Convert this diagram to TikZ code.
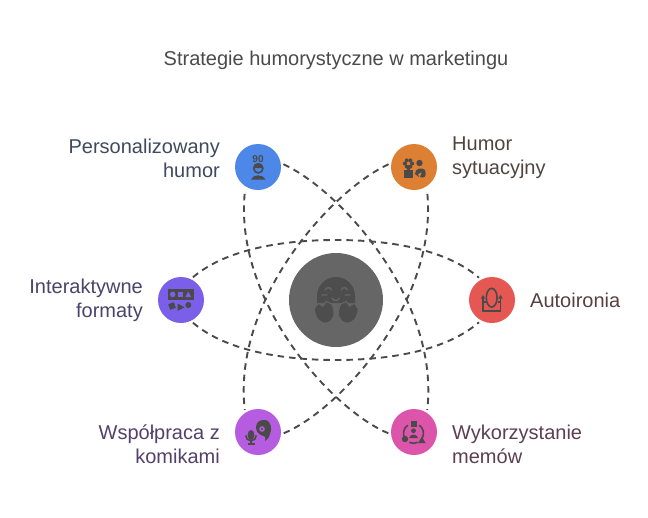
\documentclass[tikz,border=0pt]{standalone}
\usepackage{fontspec}
\setmainfont{Liberation Sans}
\usepackage{xcolor}
\usetikzlibrary{positioning, shapes.geometric}
\definecolor{hubgray}{HTML}{666666}
\definecolor{icongray}{HTML}{4A4A4A}
\definecolor{lineblue}{HTML}{4D87E8}
\definecolor{lineorange}{HTML}{DD8033}
\definecolor{linepurple}{HTML}{7B5FE8}
\definecolor{linered}{HTML}{E55753}
\definecolor{lineviolet}{HTML}{B65CE0}
\definecolor{linepink}{HTML}{DC55AB}
\definecolor{textblue}{HTML}{3F4A5E}
\definecolor{textorange}{HTML}{4F4540}
\definecolor{textpurple}{HTML}{4A4468}
\definecolor{textred}{HTML}{5A3F3F}
\definecolor{textviolet}{HTML}{54406A}
\definecolor{textpink}{HTML}{5C3F50}
\begin{document}
\begin{tikzpicture}[
    x=1pt, y=-1pt,
    spot/.style={circle, minimum size=46pt, inner sep=0pt, outer sep=0pt},
    label/.style={font=\fontsize{20}{24}\selectfont, inner sep=0pt},
    orbit/.style={draw=icongray, line width=1.9pt, dash pattern=on 6.5pt off 5pt, shorten >=3pt, shorten <=3pt},
    wire/.style={draw=icongray, line width=1.6pt, fill=none}
]
    \useasboundingbox (0,0) rectangle (648,517);

    \node[circle, minimum size=94pt, inner sep=0pt, fill=hubgray] (hub) at (336,300) {};
    \node[spot, fill=lineblue] (personal) at (258,167) {};
    \node[spot, fill=lineorange] (sytuacja) at (414,167) {};
    \node[spot, fill=linepurple] (format) at (181,300) {};
    \node[spot, fill=linered] (ironia) at (492,300) {};
    \node[spot, fill=lineviolet] (komik) at (258,432) {};
    \node[spot, fill=linepink] (mem) at (414,432) {};

    % Orbits
    \draw[orbit] (format.65) .. controls (225,250) and (280,240) .. (336,240)
        .. controls (392,240) and (447,250) .. (ironia.118);
    \draw[orbit] (format.-65) .. controls (225,350) and (280,360) .. (336,360)
        .. controls (392,360) and (447,350) .. (ironia.-118);
    \draw[orbit] (personal.10) .. controls (340,190) and (440,300) .. (mem.56);
    \draw[orbit] (mem.-174) .. controls (332,410) and (232,300) .. (personal.-123);
    \draw[orbit] (sytuacja.170) .. controls (332,190) and (232,300) .. (komik.124);
    \draw[orbit] (komik.-6) .. controls (340,410) and (440,300) .. (sytuacja.-57);

    % Labels
    \node[font=\fontsize{20}{24}\selectfont, text=icongray, inner sep=0pt] (title) at (336,60) {Strategie humorystyczne w marketingu};
    \node[label, left=15pt of personal, yshift=9pt, align=right, text=textblue] (personaltxt) {Personalizowany\\humor};
    \node[label, right=15pt of sytuacja, yshift=9pt, align=left, text=textorange] (sytuacjatxt) {Humor\\sytuacyjny};
    \node[label, left=15pt of format, align=right, text=textpurple] (formattxt) {Interaktywne\\formaty};
    \node[label, right=15pt of ironia, align=left, text=textred] (ironiatxt) {Autoironia};
    \node[label, left=15pt of komik, yshift=-12pt, align=right, text=textviolet] (komiktxt) {Współpraca z\\komikami};
    \node[label, right=15pt of mem, yshift=-12pt, align=left, text=textpink] (memtxt) {Wykorzystanie\\memów};

    % Hub icon
    \fill[icongray!90!hubgray] (317,296) arc[start angle=180, end angle=360, radius=19] -- (355,303) -- (317,303) -- cycle;
    \draw[hubgray, line width=1.3pt, line cap=round] (325,290) arc[start angle=200, end angle=340, radius=3.6]
        (341,290) arc[start angle=200, end angle=340, radius=3.6]
        (322,295) -- (327,295) (345,295) -- (350,295)
        (332,298) arc[start angle=160, end angle=20, radius=4];
    \foreach \hx/\tilt in {325/14, 347.5/-14} {
        \fill[icongray!90!hubgray, draw=hubgray, line width=1pt, rotate around={\tilt:(\hx,314)}]
            (\hx-9,306) -- (\hx-4,302) -- (\hx,306) -- (\hx+4,302) -- (\hx+9,306)
            .. controls (\hx+11,316) and (\hx+7,323) .. (\hx,323)
            .. controls (\hx-7,323) and (\hx-11,316) .. (\hx-9,306) -- cycle;
    }

    % Blue icon
    \node[font=\bfseries\fontsize{10}{10}\selectfont, text=icongray, inner sep=0pt] (ninety) at (258,159.5) {90};
    \draw[wire] (258.3,168.3) circle (4.6);
    \fill[icongray] (253.7,168) arc[start angle=180, end angle=360, radius=4.6] -- cycle;
    \fill[icongray] (251,179.5) .. controls (253,174) and (263,174) .. (265.5,179.5) -- cycle;

    % Orange icon
    \foreach \fa in {0,60,...,300} {\fill[icongray] (408.5,163.5) ++(\fa:3.6) circle (2);}
    \fill[lineorange] (408.5,163.5) circle (1.3);
    \fill[icongray] (407.3,165) rectangle (409.7,170);
    \fill[icongray] (404,169.5) rectangle (413,178);
    \fill[icongray] (419.5,163) circle (3.2);
    \fill[icongray] (415,174) .. controls (415,168) and (422,167) .. (425,170)
        .. controls (426,174) and (426,177) .. (423,177.5) -- (420,177) -- (422,172) -- (418,174) -- (419,177) -- cycle;

    % Purple icon
    \fill[icongray] (168.3,289) rectangle (194.3,300);
    \fill[linepurple] (172.7,294.4) circle (2.8);
    \fill[linepurple] (177.7,291.7) rectangle (183,297);
    \fill[linepurple] (185.3,297.2) -- (188.2,291.5) -- (191.2,297.2) -- cycle;
    \fill[icongray, rotate around={20:(172,306)}] (169,303) rectangle (175,309);
    \fill[icongray] (177.5,303.5) -- (184.5,307.3) -- (177.5,311) -- cycle;
    \fill[icongray] (188.3,305) circle (3);

    % Red icon
    \draw[wire] (491.7,297.7) ellipse (5.4 and 9.4);
    \draw[wire] (483,298) -- (483,311) -- (500.5,311) -- (500.5,298);
    \draw[wire] (483,302) -- (486,302) (497.5,302) -- (500.5,302);
    \fill[icongray] (480.8,298.5) -- (483,295) -- (485.2,298.5) -- cycle;
    \fill[icongray] (498.3,298.5) -- (500.5,295) -- (502.7,298.5) -- cycle;

    % Violet icon
    \fill[icongray] (251,435) ellipse (3.4 and 5);
    \draw[wire] (245.7,435.5) arc[start angle=180, end angle=0, radius=5.3];
    \draw[wire] (251,441) -- (251,444) (247.5,444) -- (254.5,444);
    \fill[icongray] (256,427) .. controls (256,421) and (262,419.5) .. (265,420)
        .. controls (272,421) and (272,430) .. (270,434)
        .. controls (269,438) and (267,440) .. (265,441)
        .. controls (266,437) and (265,436) .. (262,435.5)
        .. controls (258,434) and (256,431) .. (256,427) -- cycle;
    \fill[lineviolet] (262,429) circle (2.8);
    \fill[icongray] (262,429) circle (1.2);

    % Pink icon
    \fill[icongray] (410.5,420.5) rectangle (416.5,426.5);
    \draw[wire] (413.5,433.3) ++(150:10) arc[start angle=150, end angle=235, radius=10];
    \draw[wire] (413.5,433.3) ++(-55:10) arc[start angle=-55, end angle=30, radius=10];
    \draw[wire] (413.5,433.3) ++(65:10) arc[start angle=65, end angle=115, radius=10];
    \fill[icongray] (413.5,430.7) circle (2.4);
    \fill[icongray] (409,438) .. controls (410,433.5) and (417,433.5) .. (418,438) -- cycle;
    \fill[icongray] (405,439) circle (3.2);
    \fill[icongray] (418,443) -- (421.8,436.8) -- (425.6,443) -- cycle;
\end{tikzpicture}
\end{document}
